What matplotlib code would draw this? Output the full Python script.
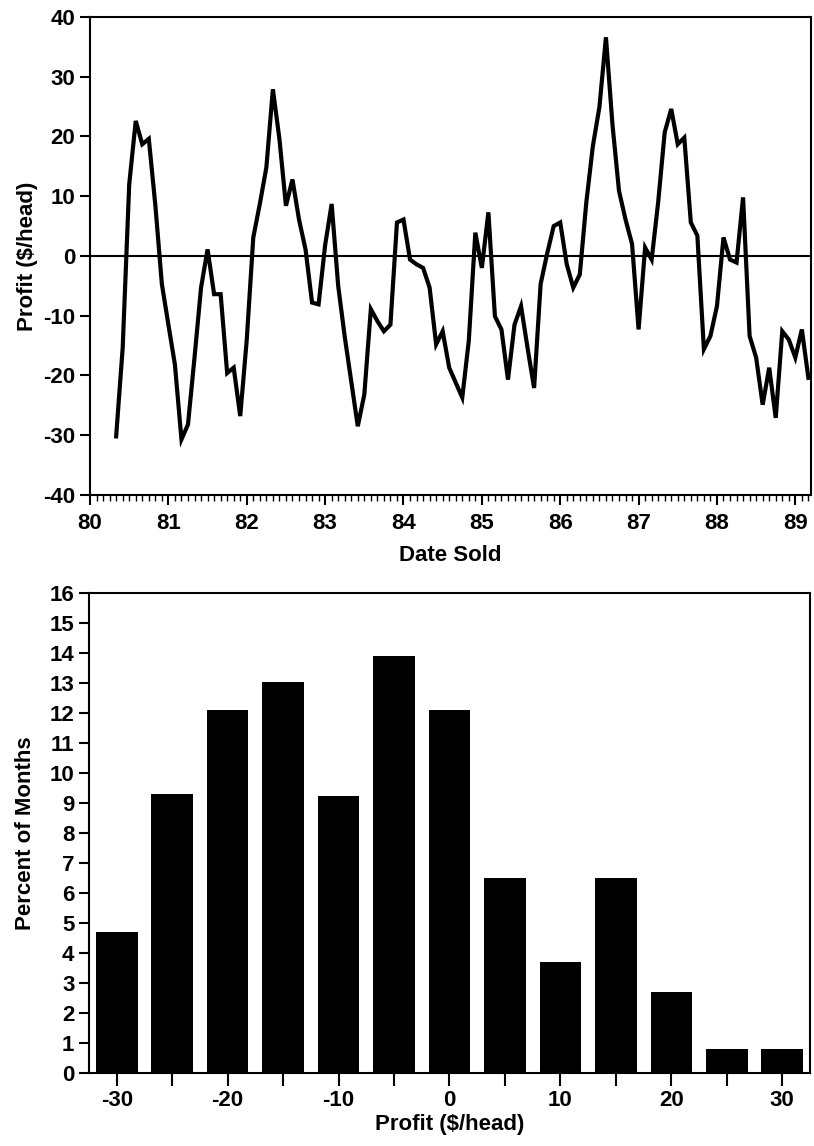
import matplotlib
matplotlib.use("Agg")
import matplotlib.pyplot as plt
from matplotlib.ticker import MultipleLocator
import numpy as np

# monthly profit, first month April 1980
start_year = 80 + 4 / 12
profit = [
    -30.2, -15.4, 12.0, 22.6, 18.7, 19.6, 8.5, -4.7, -11.5, -18.2,
    -30.7, -28.2, -17.0, -5.3, 1.1, -6.4, -6.4, -19.6, -18.7, -26.8,
    -14.0, 3.1, 8.7, 14.8, 27.9, 19.6, 8.4, 12.8, 6.1, 1.1,
    -7.8, -8.1, 1.8, 8.7, -5.0, -13.5, -21.0, -28.5, -23.2, -8.9,
    -10.9, -12.6, -11.5, 5.6, 6.1, -0.6, -1.4, -2.0, -5.3, -14.8,
    -12.6, -18.7, -21.2, -23.7, -14.2, 3.9, -2.0, 7.3, -10.1, -12.3,
    -20.7, -11.5, -8.4, -15.4, -22.1, -4.7, 0.4, 5.0, 5.6, -1.4,
    -5.3, -3.1, 9.0, 18.4, 24.9, 36.6, 22.0, 10.9, 6.1, 2.0,
    -12.3, 1.4, -0.6, 9.0, 20.7, 24.6, 18.7, 19.8, 5.6, 3.4,
    -15.6, -13.4, -8.4, 3.1, -0.6, -1.1, 9.8, -13.4, -17.0, -24.9,
    -18.7, -27.1, -12.6, -14.0, -17.0, -12.3, -20.4,
]
dates = start_year + np.arange(len(profit)) / 12

# histogram of monthly profit
bin_centers = [-30, -25, -20, -15, -10, -5, 0, 5, 10, 15, 20, 25, 30]
pct_months = [4.7, 9.3, 12.1, 13.05, 9.25, 13.9, 12.1, 6.5, 3.7, 6.5, 2.7, 0.8, 0.8]

plt.rcParams["font.family"] = ["Liberation Sans", "DejaVu Sans"]
plt.rcParams["font.size"] = 16
plt.rcParams["font.weight"] = "bold"
plt.rcParams["axes.labelweight"] = "bold"
plt.rcParams["axes.unicode_minus"] = False

fig = plt.figure(figsize=(8.14, 11.46), dpi=100)
ax1 = fig.add_axes([0.1106, 0.5681, 0.8857, 0.4171])
ax2 = fig.add_axes([0.1093, 0.0637, 0.8858, 0.4188])

ax1.plot(dates, profit, color="black", lw=3, solid_joinstyle="miter")
ax1.axhline(0, color="black", lw=1.5)
ax1.set_xlim(80, 89.2)
ax1.set_ylim(-40, 40)
ax1.xaxis.set_major_locator(MultipleLocator(1))
ax1.xaxis.set_minor_locator(MultipleLocator(1 / 12))
ax1.yaxis.set_major_locator(MultipleLocator(10))
ax1.tick_params(axis="both", which="major", direction="out", length=7, width=1.5)
ax1.tick_params(axis="x", which="minor", direction="out", length=4, width=1)
ax1.tick_params(axis="x", which="major", pad=6)
ax1.set_xlabel("Date Sold", labelpad=8)
ax1.set_ylabel("Profit ($/head)", labelpad=4)

ax2.bar(bin_centers, pct_months, width=3.75, color="black")
ax2.set_xlim(-32.5, 32.5)
ax2.set_ylim(0, 16)
ax2.xaxis.set_major_locator(MultipleLocator(10))
ax2.xaxis.set_minor_locator(MultipleLocator(5))
ax2.yaxis.set_major_locator(MultipleLocator(1))
ax2.tick_params(axis="x", which="both", direction="out", length=9, width=1.5)
ax2.tick_params(axis="y", direction="out", length=7, width=1.5)
ax2.set_xlabel("Profit ($/head)", labelpad=2)
ax2.set_ylabel("Percent of Months", labelpad=10)

for ax in (ax1, ax2):
    for sp in ax.spines.values():
        sp.set_linewidth(1.5)

fig.savefig("out.png", dpi=100)
